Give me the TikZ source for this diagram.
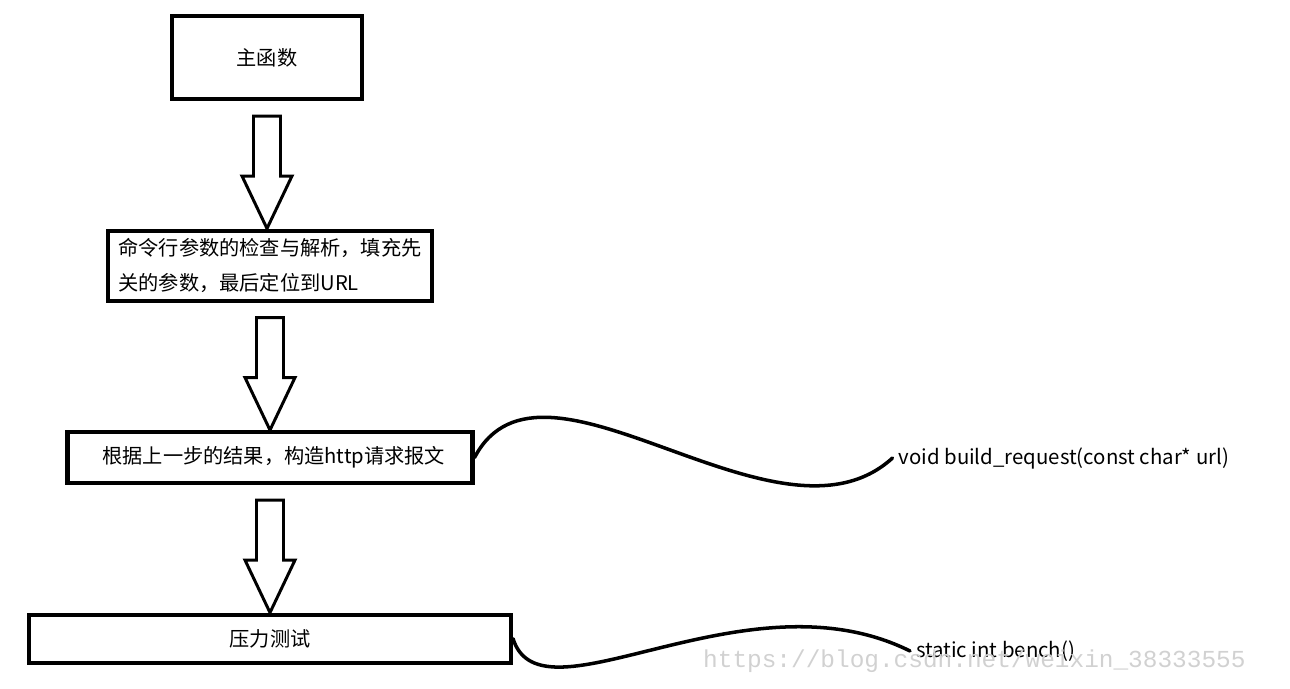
\documentclass[tikz,border=0pt]{standalone}
\usepackage{fontspec}
\setmainfont{Noto Sans CJK SC}
\newfontfamily\wmfont{Liberation Mono}
\usepackage{tikz}
\usetikzlibrary{positioning,calc}

% hollow block arrow from below one box down to the top of the next
\newcommand{\hollowarrow}[2]{%
  \draw[hollow] let \p1=($(#1.south)+(0,-0.3)$), \p2=(#2.north) in
    (\x1-0.27cm,\y1) -- (\x1-0.27cm,\y2+1.05cm) -- (\x1-0.5cm,\y2+1.05cm) -- (\x1,\y2)
    -- (\x1+0.5cm,\y2+1.05cm) -- (\x1+0.27cm,\y2+1.05cm) -- (\x1+0.27cm,\y1) -- cycle;}

\begin{document}
\begin{tikzpicture}[node distance=2.55cm,
        box/.style={draw, rectangle, line width=2.3pt, align=center, inner ysep=2pt,
            font=\fontsize{11.5}{20}\selectfont},
        hollow/.style={draw, line width=1.7pt, fill=white},
        wire/.style={line width=2pt, line cap=round},
        code/.style={anchor=west, font=\fontsize{11.6}{13}\selectfont}
    ]
        \useasboundingbox (0,0) rectangle (25.8,-13.78);

        \node [box, minimum width=3.8cm, minimum height=1.66cm] (main) at (5.34,-1.15) {主函数};
        \node [box, below=of main, xshift=0.06cm, minimum width=6.48cm, minimum height=1.4cm, align=left] (args)
            {命令行参数的检查与解析，填充先\\关的参数，最后定位到URL};
        \node [box, below=of args, minimum width=8.1cm, minimum height=1.02cm] (req)
            {\hspace{0.15cm}根据上一步的结果，构造http请求报文};
        \node [box, below=of req, minimum width=9.64cm, minimum height=0.96cm] (bench) {压力测试};

        \hollowarrow{main}{args}
        \hollowarrow{args}{req}
        \hollowarrow{req}{bench}

        % function names
        \node [code] (reqfn) at (17.85,-9.16) {void build\_request(const char* url)};
        \node [code] (benchfn) at (18.2,-13.02) {static int bench()};

        \draw [wire] (req.east) .. controls +(1.36,2.6) and +(-2.3,-2.1) .. (reqfn.west);
        \draw [wire] (bench.east) .. controls +(0.56,-1.8) and +(-3.3,1.64) .. (benchfn.west);

        \node [anchor=west, text=black!18, font=\wmfont\fontsize{13.9}{16}\selectfont] (wm)
            at (13.94,-13.22) {https://blog.csdn.net/weixin\_38333555};
    \end{tikzpicture}
\end{document}
